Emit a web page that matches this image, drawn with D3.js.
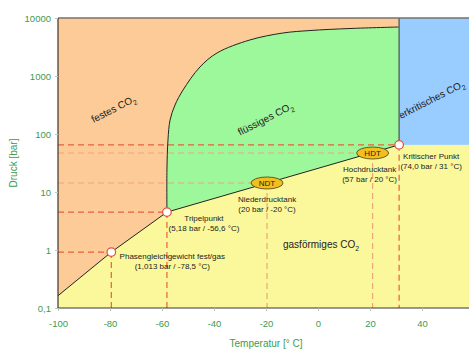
<!DOCTYPE html>
<html>
<head>
<meta charset="utf-8">
<script src="https://cdn.jsdelivr.net/npm/d3@7"></script>
<style>
  body{margin:0;background:#fff;}
  svg{display:block;font-family:"Liberation Sans",Arial,sans-serif;}
</style>
</head>
<body>
<div id="chart"></div>
<script>
// Phasendiagramm CO2

// Achsen
var xTicks = [-100, -80, -60, -40, -20, 0, 20, 40, 60];
var yTicks = [0.1, 1, 10, 100, 1000, 10000];
var yTickLabels = ["0,1", "1", "10", "100", "1000", "10000"];

// Sublimationskurve (fest/gas)
var sublT = [-100, -79.5, -58.1];
var sublP = [0.163, 0.92, 4.5];

// Schmelzkurve (fest/fluessig)
var meltT = [-58.1, -58.1, -57.7, -56.9, -55.0, -51.9, -45.4, -38.8, -26.2, -13.5, -3.1, 12.3, 31.2];
var meltP = [4.5, 24, 79, 174, 316, 574, 1430, 2500, 4180, 5510, 6080, 6590, 7000];

// Dampfdruckkurve (fluessig/gas): Tripelpunkt -> kritischer Punkt
var vapT = [-58.1, 31.2];
var vapP = [4.5, 65];

// markierte Punkte
var pointT = [-79.5, -58.1, -19.6, 21, 31.2];
var pointP = [0.92, 4.5, 14.3, 47, 65];
var pointTag = ["", "", "NDT", "HDT", ""];
var pointLabels = [
  ["Phasengleichgewicht fest/gas", "(1,013 bar / -78,5 °C)"],
  ["Tripelpunkt", "(5,18 bar / -56,6 °C)"],
  ["Niederdrucktank", "(20 bar / -20 °C)"],
  ["Hochdrucktank", "(57 bar / 20 °C)"],
  ["Kritischer Punkt", "(74,0 bar / 31 °C)"]
];

// Layout
var W = 469, H = 350;
var L = 58, R = 474, T = 18, B = 308;
var green = "#3c9b4e";

var svg = d3.select("#chart").append("svg").attr("width", W).attr("height", H);

var x = d3.scaleLinear().domain([-100, 60]).range([L, R]);
var y = d3.scaleLog().domain([0.1, 10000]).range([B, T]);

var clip = svg.append("clipPath").attr("id", "plot");
clip.append("rect").attr("x", L).attr("y", T).attr("width", R - L).attr("height", B - T);
var g = svg.append("g").attr("clip-path", "url(#plot)");

var crit = {x: x(vapT[1]), y: y(vapP[1])};
var triple = {x: x(vapT[0]), y: y(vapP[0])};

var meltPts = meltT.map(function(t, i){return [x(t), y(meltP[i])];});
var meltPath = d3.line().curve(d3.curveCatmullRom)(meltPts);
var meltTail = meltPath.replace(/^M[^A-Za-z]*/, ""); // ohne Startpunkt

// Flaechen
g.append("rect").attr("x", L).attr("y", T).attr("width", R - L).attr("height", B - T).attr("fill", "#fbf89b");

var subl = sublT.map(function(t, i){return [x(t), y(sublP[i])];});
var solidD = "M" + subl.map(function(p){return p.join(",");}).join("L") + meltTail
  + "L" + x(31.2) + "," + y(10000) + "L" + x(-100) + "," + y(10000) + "Z";
g.append("path").attr("d", solidD).attr("fill", "#fccb98");

var liquidD = "M" + triple.x + "," + triple.y + meltTail + "L" + crit.x + "," + crit.y + "Z";
g.append("path").attr("d", liquidD).attr("fill", "#9cf89a");

g.append("rect").attr("x", crit.x).attr("y", T).attr("width", R - crit.x).attr("height", crit.y - T).attr("fill", "#99ccff");

// Hilfslinien
var lineColors = ["#e8603c", "#e8603c", "#eda57a", "#eda57a", "#e8603c"];
pointT.forEach(function(t, i){
  var px = x(t), py = y(pointP[i]);
  g.append("line").attr("x1", L).attr("x2", px).attr("y1", py).attr("y2", py)
    .attr("stroke", lineColors[i]).attr("stroke-width", 1.2).attr("stroke-dasharray", "6,4");
  g.append("line").attr("x1", px).attr("x2", px).attr("y1", py).attr("y2", B)
    .attr("stroke", lineColors[i]).attr("stroke-width", 1.2).attr("stroke-dasharray", "6,4");
});

// Phasengrenzen
g.append("path").attr("d", d3.line()(subl)).attr("fill", "none").attr("stroke", "#222").attr("stroke-width", 1);
g.append("path").attr("d", meltPath).attr("fill", "none").attr("stroke", "#222").attr("stroke-width", 1);
g.append("path").attr("d", d3.line()(vapT.map(function(t, i){return [x(t), y(vapP[i])];})))
  .attr("fill", "none").attr("stroke", "#222").attr("stroke-width", 1);
g.append("line").attr("x1", crit.x).attr("x2", crit.x).attr("y1", crit.y).attr("y2", T)
  .attr("stroke", "#5a6e60").attr("stroke-width", 1.5);

// Rahmen
svg.append("line").attr("x1", L).attr("x2", W).attr("y1", T).attr("y2", T).attr("stroke", "#7a7068").attr("stroke-width", 1.5);
svg.append("line").attr("x1", L).attr("x2", L).attr("y1", T).attr("y2", B).attr("stroke", "#3a3430").attr("stroke-width", 1.2);
svg.append("line").attr("x1", L).attr("x2", W).attr("y1", B).attr("y2", B).attr("stroke", "#3a3430").attr("stroke-width", 1.2);

// Bereichsbeschriftung
function co2(sel, name){
  sel.append("tspan").text(name + " CO");
  sel.append("tspan").attr("font-size", "7px").attr("dy", "3").text("2");
}
var regions = [
  {name: "festes", cx: 115, cy: 112, rot: -27},
  {name: "flüssiges", cx: 267, cy: 122, rot: -27}
];
regions.forEach(function(r){
  var t = svg.append("text").attr("transform", "translate(" + r.cx + "," + r.cy + ") rotate(" + r.rot + ")")
    .attr("text-anchor", "middle").attr("font-size", "10px").attr("fill", "#222");
  co2(t, r.name);
});

var sc = svg.append("clipPath").attr("id", "superclip");
sc.append("rect").attr("x", crit.x + 1).attr("y", T).attr("width", R - crit.x).attr("height", crit.y - T);
var st = svg.append("g").attr("clip-path", "url(#superclip)").append("text")
  .attr("transform", "translate(391,124) rotate(-27)").attr("font-size", "10px").attr("fill", "#222");
co2(st, "überkritisches");

var gt = svg.append("text").attr("x", 283).attr("y", 248).attr("font-size", "10px").attr("fill", "#222");
co2(gt, "gasförmiges");

// Punkte
pointT.forEach(function(t, i){
  var px = x(t), py = y(pointP[i]);
  if(pointTag[i]){
    g.append("ellipse").attr("cx", px).attr("cy", py).attr("rx", 16).attr("ry", 6)
      .attr("fill", "#f2c01e").attr("stroke", "#4a3a10").attr("stroke-width", 0.8);
    svg.append("text").attr("x", px).attr("y", py + 3).attr("text-anchor", "middle")
      .attr("font-size", "8px").attr("fill", "#222").text(pointTag[i]);
  }else{
    g.append("circle").attr("cx", px).attr("cy", py).attr("r", 4.3)
      .attr("fill", "#fff").attr("stroke", "#e0503a").attr("stroke-width", 1.2);
  }
});

// Punktbeschriftungen (Versatz zum Punkt)
var labelOffset = [[61, 4], [37, 6], [0, 16], [-3, 16], [32, 11]];
pointLabels.forEach(function(lines, i){
  var px = x(pointT[i]) + labelOffset[i][0], py = y(pointP[i]) + labelOffset[i][1];
  var t = svg.append("text").attr("text-anchor", "middle").attr("font-size", "8px").attr("fill", "#222");
  lines.forEach(function(s, j){
    t.append("tspan").attr("x", px).attr("y", py + 3 + j * 10).text(s);
  });
});

// Achsen
var ya = svg.append("g").attr("transform", "translate(" + L + ",0)")
  .call(d3.axisLeft(y).tickValues(yTicks).tickSize(3).tickPadding(4)
    .tickFormat(function(d, i){return yTickLabels[i];}));
var xa = svg.append("g").attr("transform", "translate(0," + B + ")")
  .call(d3.axisBottom(x).tickValues(xTicks).tickSize(3).tickPadding(9)
    .tickFormat(function(d){return String(d);}));
[ya, xa].forEach(function(a){
  a.select(".domain").remove();
  a.selectAll(".tick line").attr("stroke", "#b8c8b8");
  a.selectAll("text").attr("fill", green).attr("font-size", "9.5px")
    .attr("font-family", "'Liberation Sans',Arial,sans-serif");
});

svg.append("text").attr("transform", "translate(17,163) rotate(-90)").attr("text-anchor", "middle")
  .attr("font-size", "10px").attr("fill", green).text("Druck [bar]");
svg.append("text").attr("x", 266).attr("y", 347).attr("text-anchor", "middle")
  .attr("font-size", "10px").attr("fill", green).text("Temperatur [° C]");
</script>
</body>
</html>
